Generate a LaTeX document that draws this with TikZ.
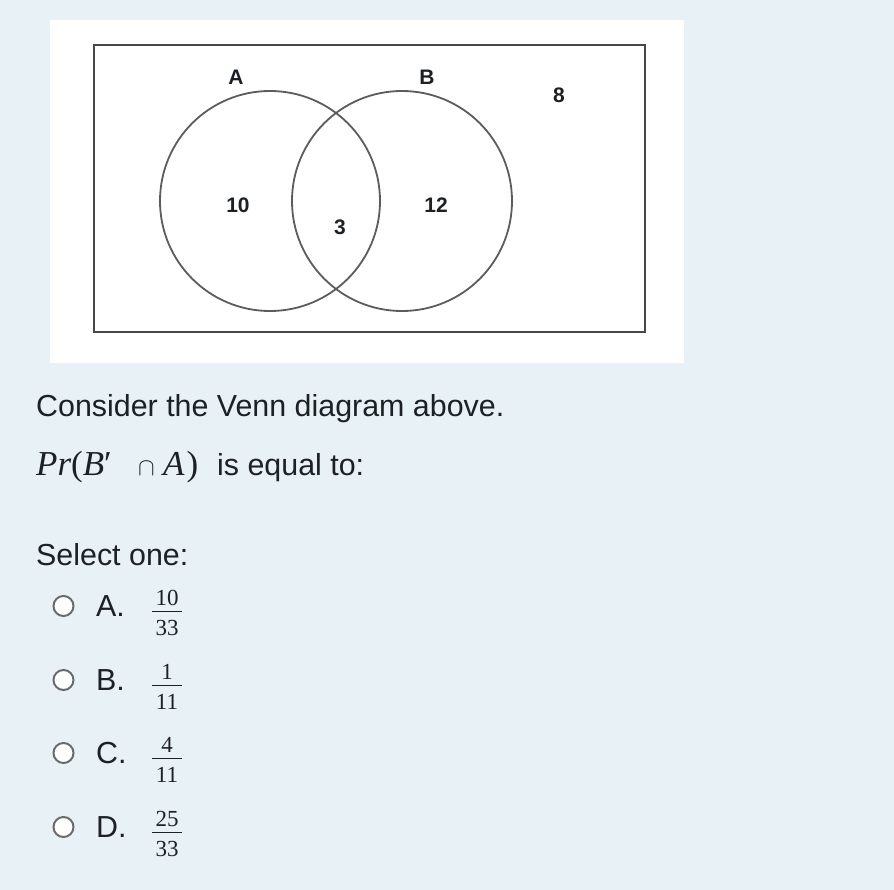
\documentclass[tikz,border=0pt]{standalone}
\usepackage{fontspec}
\setmainfont{Liberation Sans}
\newfontfamily\timesfont{Liberation Serif}
\usetikzlibrary{positioning}
\definecolor{pagebg}{HTML}{E8F1F5}
\definecolor{inktext}{HTML}{1D2125}
\definecolor{vennline}{HTML}{5C5C5C}
\definecolor{boxline}{HTML}{484848}
\definecolor{radioline}{HTML}{6B6B6B}
\tikzset{
  vennlabel/.style={font=\fontsize{21}{24}\selectfont\bfseries, text=inktext, inner sep=0pt},
  bodytext/.style={font=\fontsize{30.4}{34}\selectfont, text=inktext, inner sep=0pt, anchor=base west},
  mathtext/.style={font=\fontsize{35}{38}\timesfont\selectfont, text=inktext, inner sep=0pt, anchor=base west},
  fracnum/.style={font=\fontsize{23}{26}\timesfont\selectfont, text=inktext, inner sep=0pt, anchor=base},
  radio/.style={draw=radioline, line width=2pt, fill=white}
}

\begin{document}
\begin{tikzpicture}[x=1pt,y=-1pt]
    \fill[pagebg] (0,0) rectangle (894,890);
    \useasboundingbox (0,0) rectangle (894,890);
    % the Venn diagram
    \fill[white] (50,20) rectangle (684,363);
    \draw[boxline, line width=2pt] (94,45) rectangle (645,332);
    \draw[vennline, line width=1.8pt] (270,201) circle [radius=110];
    \draw[vennline, line width=1.8pt] (402,201) circle [radius=110];
    \node[vennlabel] (labA) at (236,77) {A};
    \node[vennlabel] (labB) at (427,77) {B};
    \node[vennlabel] (outside) at (559,95) {8};
    \node[vennlabel] (onlyA) at (238,205) {10};
    \node[vennlabel] (onlyB) at (436,205) {12};
    \node[vennlabel] (both) at (340,227) {3};
    % question
    \node[bodytext] (consider) at (36,417) {Consider the Venn diagram above.};
    \node[mathtext] (qprob) at (36,475) {\itshape Pr\upshape(\itshape B\upshape′};
    \node[font=\fontsize{34}{38}\selectfont, text=inktext, inner sep=0pt, anchor=base] (qcap) at (146.5,475) {$\cap$};
    \node[mathtext] (qset) at (163,475) {\itshape A\upshape\hspace{2pt})};
    \node[bodytext] (qrest) at (217,475) {is equal to:};
    \node[bodytext] (select) at (36,565) {Select one:};
    % options
    \foreach \opt/\num/\den/\yc in {A/10/33/606, B/1/11/680, C/4/11/753, D/25/33/827}{
        \draw[radio] (63.5,\yc) circle [radius=10];
        \node[bodytext] (opt\opt) at (96,\yc+10) {\opt.};
        \node[fracnum] (num\opt) at (167,\yc-1) {\num};
        \node[fracnum] (den\opt) at (167,\yc+29) {\den};
        \draw[inktext, line width=1.4pt] (152,\yc+5.7) -- (182,\yc+5.7);
    }
\end{tikzpicture}
\end{document}
